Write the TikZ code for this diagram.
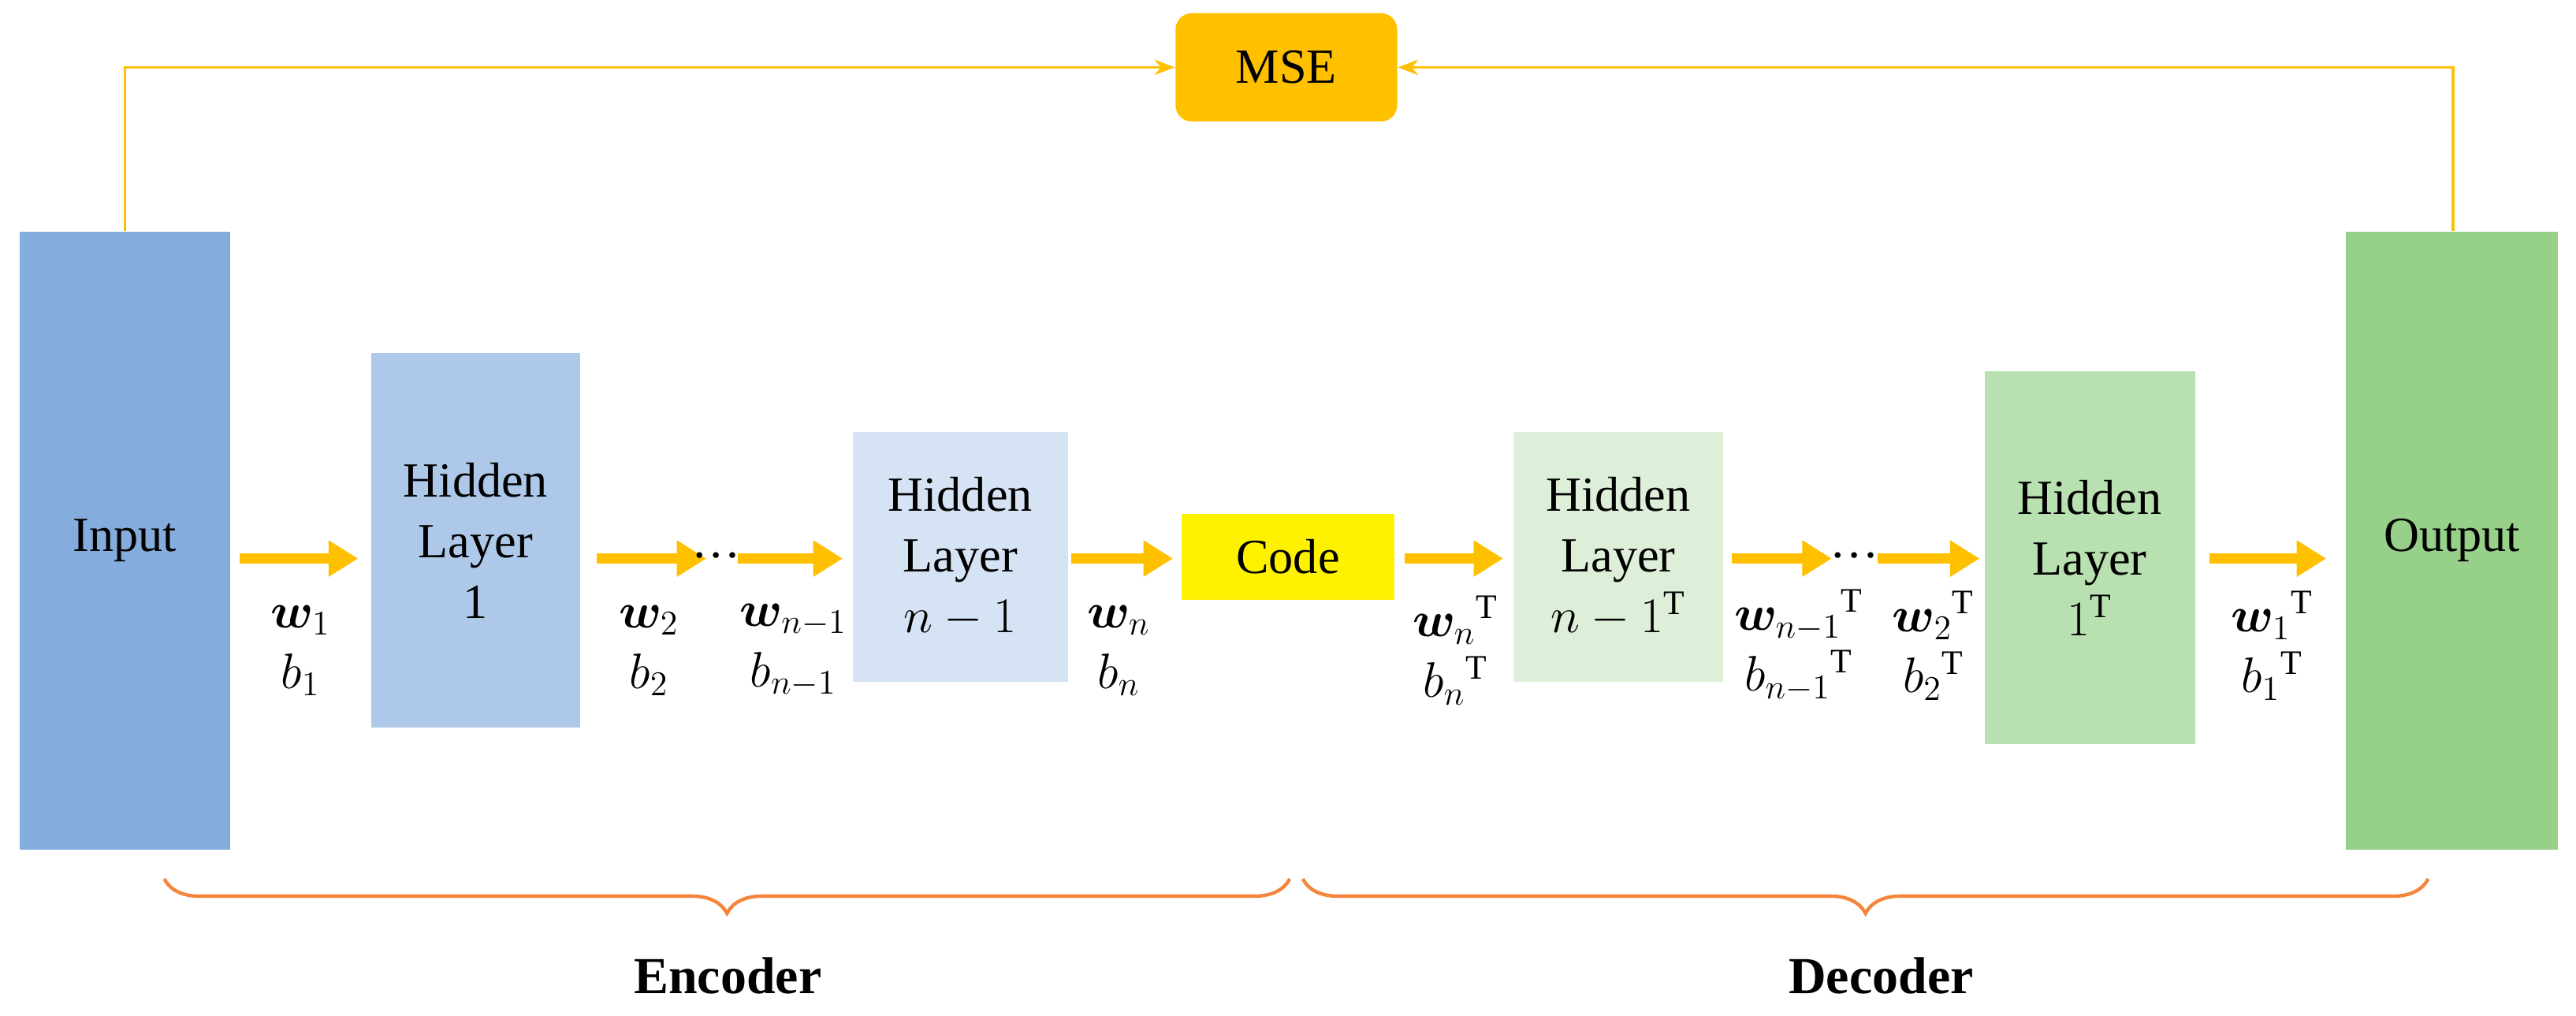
\documentclass[tikz,border=0pt]{standalone}
\usepackage{amsmath,bm}
\usepackage{fontspec}
\setmainfont{Liberation Serif}
\usetikzlibrary{arrows.meta,decorations.pathreplacing,calc}
\definecolor{c1}{HTML}{84ACDD}
\definecolor{c2}{HTML}{AEC8EA}
\definecolor{c3}{HTML}{D6E3F4}
\definecolor{c4}{HTML}{DEEFD9}
\definecolor{c5}{HTML}{B9E0B0}
\definecolor{c6}{HTML}{97D088}
\definecolor{org}{HTML}{FFC000}
\definecolor{brc}{HTML}{F4853B}
\begin{document}
\begin{tikzpicture}[x=0.02cm,y=-0.02cm,
  box/.style={draw=none,inner sep=0pt,align=center,font=\fontsize{17}{21}\selectfont},
  big/.style={-{Triangle[length=0.36cm,width=0.42cm]},line width=0.13cm,org,shorten >=0pt},
  lab/.style={font=\fontsize{17}{21}\selectfont,align=center},
  thin/.style={org,line width=1pt,-{Stealth[length=0.25cm]}},
  br/.style={brc,line width=1.2pt,decorate,decoration={brace,mirror,amplitude=0.42cm}}]
\useasboundingbox (0,0) rectangle (1568,618);
\newcommand{\bx}[6]{\node[box,fill=#6,minimum width={(#3-#2)*0.02cm},minimum height={(#5-#4)*0.02cm}] (#1) at ({(#2+#3)/2},{(#4+#5)/2}) {};}
\bx{in}{12}{140}{141}{517}{c1}
\bx{h1}{226}{353}{215}{443}{c2}
\bx{hn}{519}{650}{263}{415}{c3}
\bx{code}{719}{849}{313}{365}{yellow}
\bx{dn}{921}{1049}{263}{415}{c4}
\bx{d1}{1208}{1336}{226}{453}{c5}
\bx{out}{1428}{1557}{141}{517}{c6}
\node[box,fill=org,rounded corners=0.2cm,minimum width=2.7cm,minimum height=1.32cm] (mse) at (783,41) {MSE};
\node[lab] at (in) {Input};
\node[lab] at (h1) {Hidden\\Layer\\1};
\node[lab] at (hn) {Hidden\\Layer\\$n-1$};
\node[lab] at (code) {Code};
\node[lab] at (dn) {Hidden\\Layer\\$n-1^{\mathrm{T}}$};
\node[lab] at (d1) {Hidden\\Layer\\$1^{\mathrm{T}}$};
\node[lab] at (out) {Output};
% big arrows
\foreach \a/\b [count=\i] in {146/218,363/430,449/513,652/714,855/915,1054/1115,1143/1205,1345/1416}{
  \coordinate (s\i) at (\a,340); \coordinate (e\i) at (\b,340);
  \draw[big] (s\i) -- (e\i);}
\node[lab] at (436,338) {\dots};
\node[lab] at (1129,338) {\dots};
% weight labels
\node[lab] (l1) at (183,396) {$\bm{w}_1$\\$b_1$};
\node[lab] (l2) at (395,396) {$\bm{w}_2$\\$b_2$};
\node[lab] (l3) at (483,396) {$\bm{w}_{n-1}$\\$b_{n-1}$};
\node[lab] (l4) at (681,396) {$\bm{w}_n$\\$b_n$};
\node[lab] (l5) at (886,396) {$\bm{w}_n{}^{\mathrm{T}}$\\$b_n{}^{\mathrm{T}}$};
\node[lab] (l6) at (1095,393) {$\bm{w}_{n-1}{}^{\mathrm{T}}$\\$b_{n-1}{}^{\mathrm{T}}$};
\node[lab] (l7) at (1177,393) {$\bm{w}_2{}^{\mathrm{T}}$\\$b_2{}^{\mathrm{T}}$};
\node[lab] (l8) at (1383,393) {$\bm{w}_1{}^{\mathrm{T}}$\\$b_1{}^{\mathrm{T}}$};
% MSE lines
\draw[thin] (in.north -| 76,0) |- (mse.west);
\draw[thin] (out.north -| 1493,0) |- (mse.east);
% braces
\coordinate (ba) at (100,535); \coordinate (bb) at (785,535);
\coordinate (bc) at (793,535); \coordinate (bd) at (1478,535);
\draw[br] (ba) -- (bb);
\draw[br] (bc) -- (bd);
\node[lab,font=\fontsize{18}{21}\selectfont\bfseries] (enc) at (443,594) {Encoder};
\node[lab,font=\fontsize{18}{21}\selectfont\bfseries] (dec) at (1145,594) {Decoder};
\end{tikzpicture}
\end{document}
